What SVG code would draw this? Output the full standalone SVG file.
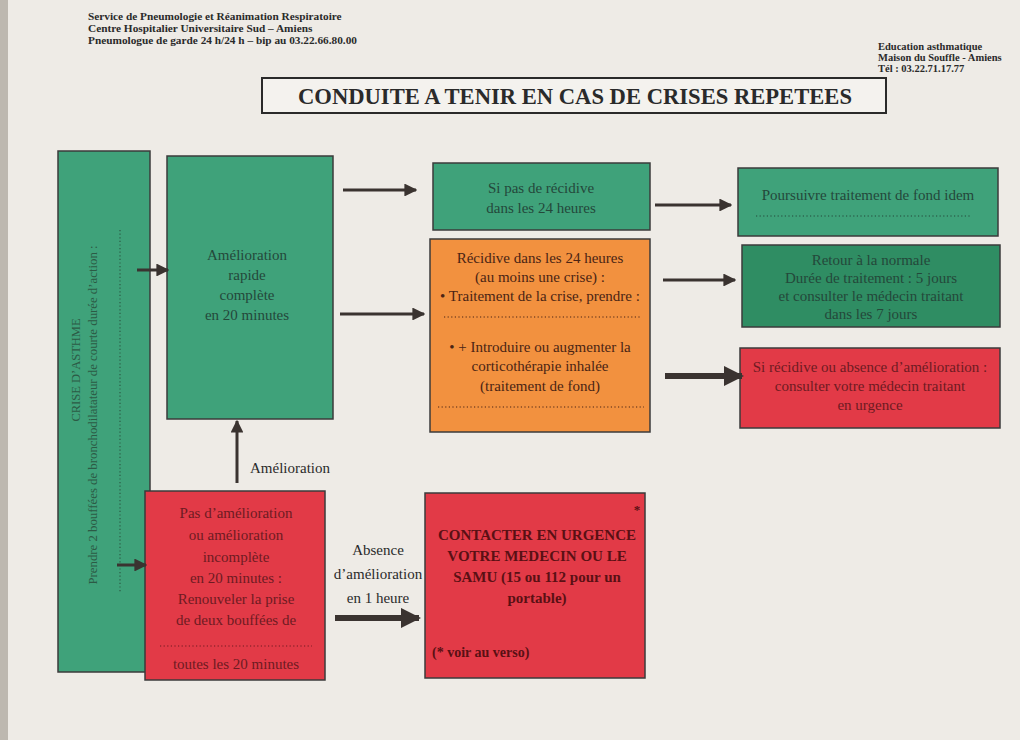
<svg xmlns="http://www.w3.org/2000/svg" width="1020" height="740" viewBox="0 0 1020 740">
<style>
  .t{font-family:"Liberation Serif","Times New Roman",serif;}
  .hdr{font-family:"Liberation Serif",serif;font-weight:bold;fill:#2a2a2a;}
  .box{stroke:#3b3b3b;stroke-width:1.5;}
  .g{fill:#3fa27a;}
  .dg{fill:#2f8d63;}
  .or{fill:#f2913f;}
  .rd{fill:#e23a47;}
  .tg{fill:#24483a;font-size:15px;text-anchor:middle;}
  .to{fill:#4a2414;font-size:15px;text-anchor:middle;}
  .tr{fill:#6e1a22;font-size:15px;text-anchor:middle;}
  .dots{stroke-dasharray:1.2 2.4;stroke-width:1.2;fill:none;}
  .arr{stroke:#3a3330;stroke-width:3;fill:none;}
  .arrB{stroke:#3a3330;stroke-width:6;fill:none;}
</style>
<defs>
  <marker id="ah" viewBox="0 0 10 10" refX="9" refY="5" markerWidth="4.3" markerHeight="4.3" markerUnits="strokeWidth" orient="auto">
    <path d="M0,0 L10,5 L0,10 z" fill="#3a3330"/>
  </marker>
  <marker id="ahB" viewBox="0 0 10 10" refX="9" refY="5" markerWidth="3.4" markerHeight="3.4" markerUnits="strokeWidth" orient="auto">
    <path d="M0,0 L10,5 L0,10 z" fill="#3a3330"/>
  </marker>
</defs>
<rect x="0" y="0" width="1020" height="740" fill="#eeebe6"/>
<rect x="0" y="0" width="8" height="740" fill="#bdb8b0"/>

<g id="header-left" class="hdr" font-size="11.3">
  <text x="88" y="20">Service de Pneumologie et Réanimation Respiratoire</text>
  <text x="88" y="32">Centre Hospitalier Universitaire Sud – Amiens</text>
  <text x="88" y="44">Pneumologue de garde 24 h/24 h – bip au 03.22.66.80.00</text>
</g>
<g id="header-right" class="hdr" font-size="10.5">
  <text x="878" y="50">Education asthmatique</text>
  <text x="878" y="61">Maison du Souffle - Amiens</text>
  <text x="878" y="72">Tél : 03.22.71.17.77</text>
</g>
<g id="title">
  <rect x="262" y="78" width="624" height="35" fill="#f4f2ee" stroke="#2a2a2a" stroke-width="2"/>
  <text class="t" x="575" y="104" font-size="22.6" font-weight="bold" fill="#2a2a2a" text-anchor="middle">CONDUITE A TENIR EN CAS DE CRISES REPETEES</text>
</g>

<g id="crise">
  <rect class="box g" x="58" y="151" width="92" height="521"/>
  <text class="t" transform="rotate(-90 80 370)" x="80" y="370" font-size="12.5" fill="#2c5a45" text-anchor="middle">CRISE D’ASTHME</text>
  <text class="t" transform="rotate(-90 97 415)" x="97" y="415" font-size="12.8" fill="#2c5a45" text-anchor="middle">Prendre 2 bouffées de bronchodilatateur de courte durée d’action :</text>
  <line class="dots" x1="120" y1="230" x2="120" y2="592" stroke="#2c5a45"/>
</g>

<g id="amelioration-rapide">
  <rect class="box g" x="167" y="156" width="166" height="263"/>
  <text class="t tg" x="247" y="260">Amélioration</text>
  <text class="t tg" x="247" y="280">rapide</text>
  <text class="t tg" x="247" y="300">complète</text>
  <text class="t tg" x="247" y="320">en 20 minutes</text>
</g>

<g id="pas-amelioration">
  <rect class="box rd" x="145" y="491" width="180" height="189"/>
  <text class="t tr" x="236" y="518">Pas d’amélioration</text>
  <text class="t tr" x="236" y="540">ou amélioration</text>
  <text class="t tr" x="236" y="562">incomplète</text>
  <text class="t tr" x="236" y="583">en 20 minutes :</text>
  <text class="t tr" x="236" y="604">Renouveler la prise</text>
  <text class="t tr" x="236" y="625">de deux bouffées de</text>
  <line class="dots" x1="160" y1="646" x2="312" y2="646" stroke="#6e1a22"/>
  <text class="t tr" x="236" y="669">toutes les 20 minutes</text>
</g>

<g id="pas-recidive">
  <rect class="box g" x="433" y="163" width="217" height="67"/>
  <text class="t tg" x="541" y="193" font-size="14.5">Si pas de récidive</text>
  <text class="t tg" x="541" y="213" font-size="14.5">dans les 24 heures</text>
</g>

<g id="recidive">
  <rect class="box or" x="430" y="239" width="220" height="193"/>
  <text class="t to" x="540" y="263">Récidive dans les 24 heures</text>
  <text class="t to" x="540" y="282">(au moins une crise) :</text>
  <text class="t to" x="540" y="301">• Traitement de la crise, prendre :</text>
  <line class="dots" x1="444" y1="317" x2="640" y2="317" stroke="#4a2414"/>
  <text class="t to" x="540" y="352">• + Introduire ou augmenter la</text>
  <text class="t to" x="540" y="371">corticothérapie inhalée</text>
  <text class="t to" x="540" y="391">(traitement de fond)</text>
  <line class="dots" x1="438" y1="407" x2="644" y2="407" stroke="#4a2414"/>
</g>

<g id="poursuivre">
  <rect class="box g" x="738" y="168" width="260" height="68"/>
  <text class="t tg" x="868" y="200" font-size="14">Poursuivre traitement de fond idem</text>
  <line class="dots" x1="756" y1="216" x2="972" y2="216" stroke="#24483a"/>
</g>

<g id="retour">
  <rect class="box dg" x="742" y="245" width="258" height="82"/>
  <text class="t tg" x="871" y="265" font-size="14">Retour à la normale</text>
  <text class="t tg" x="871" y="283" font-size="14">Durée de traitement : 5 jours</text>
  <text class="t tg" x="871" y="301" font-size="14">et consulter le médecin traitant</text>
  <text class="t tg" x="871" y="319" font-size="14">dans les 7 jours</text>
</g>

<g id="si-recidive">
  <rect class="box rd" x="740" y="348" width="260" height="80"/>
  <text class="t tr" x="870" y="372" font-size="14">Si récidive ou absence d’amélioration :</text>
  <text class="t tr" x="870" y="391" font-size="14">consulter votre médecin traitant</text>
  <text class="t tr" x="870" y="410" font-size="14">en urgence</text>
</g>

<g id="contacter">
  <rect class="box rd" x="425" y="493" width="220" height="185"/>
  <text class="t" x="637" y="514" font-size="13" font-weight="bold" fill="#5a1014" text-anchor="middle">*</text>
  <g class="t" font-size="15" font-weight="bold" fill="#5a1014" text-anchor="middle">
    <text x="537" y="540">CONTACTER EN URGENCE</text>
    <text x="537" y="561">VOTRE MEDECIN OU LE</text>
    <text x="537" y="582">SAMU (15 ou 112 pour un</text>
    <text x="537" y="603">portable)</text>
  </g>
  <text class="t" x="432" y="657" font-size="14" font-weight="bold" fill="#5a1014">(* voir au verso)</text>
</g>

<g id="labels" class="t" fill="#2a2a2a" font-size="15" text-anchor="middle">
  <text x="290" y="473">Amélioration</text>
  <text x="378" y="555">Absence</text>
  <text x="378" y="579">d’amélioration</text>
  <text x="378" y="603">en 1 heure</text>
</g>

<g id="connectors">
  <line class="arr" x1="137" y1="270" x2="168" y2="270" marker-end="url(#ah)"/>
  <line class="arr" x1="117" y1="565" x2="146" y2="565" marker-end="url(#ah)"/>
  <line class="arr" x1="237" y1="483" x2="237" y2="421" marker-end="url(#ah)"/>
  <line class="arr" x1="343" y1="190" x2="416" y2="190" marker-end="url(#ah)"/>
  <line class="arr" x1="340" y1="314" x2="424" y2="314" marker-end="url(#ah)"/>
  <line class="arr" x1="655" y1="205" x2="731" y2="205" marker-end="url(#ah)"/>
  <line class="arr" x1="663" y1="280" x2="735" y2="280" marker-end="url(#ah)"/>
  <line class="arrB" x1="665" y1="376" x2="742" y2="376" marker-end="url(#ahB)"/>
  <line class="arrB" x1="335" y1="618" x2="419" y2="618" marker-end="url(#ahB)"/>
</g>
</svg>
